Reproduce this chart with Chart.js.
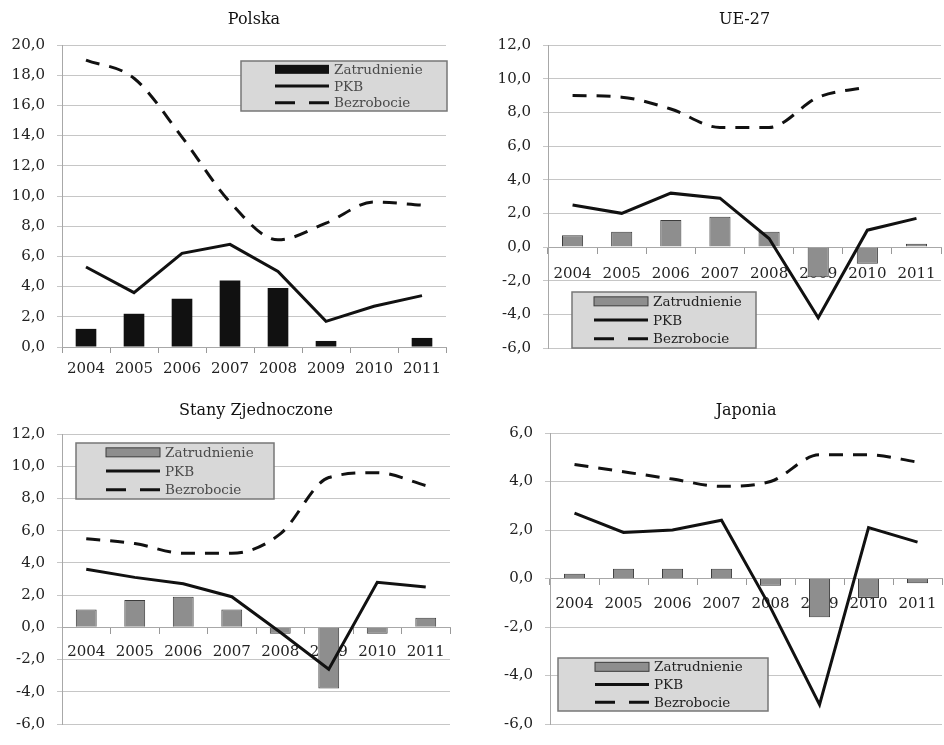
<!DOCTYPE html>
<html lang="pl">
<head>
<meta charset="utf-8">
<title>Zatrudnienie, PKB i bezrobocie 2004-2011</title>
<script src="https://cdn.jsdelivr.net/npm/chart.js@4.4.1/dist/chart.umd.min.js"></script>
<style>
  html, body { margin: 0; padding: 0; background: #fff; }
  body { width: 944px; height: 745px; position: relative; overflow: hidden; }
  .panel { position: absolute; }
</style>
</head>
<body>
<div class="panel" style="left:0;top:0"><canvas id="plChart" width="472" height="380"></canvas></div>
<div class="panel" style="left:472px;top:0"><canvas id="ueChart" width="476" height="380"></canvas></div>
<div class="panel" style="left:0;top:380px"><canvas id="usChart" width="472" height="365"></canvas></div>
<div class="panel" style="left:472px;top:380px"><canvas id="jpChart" width="476" height="365"></canvas></div>
<script>
// values (%)
const years = ['2004', '2005', '2006', '2007', '2008', '2009', '2010', '2011'];

const plZatr = [1.2, 2.2, 3.2, 4.4, 3.9, 0.4, 0.0, 0.6];
const plPkb  = [5.3, 3.6, 6.2, 6.8, 5.0, 1.7, 2.7, 3.4];
const plBezr = [19.0, 17.8, 13.9, 9.6, 7.1, 8.2, 9.6, 9.4];

const ueZatr = [0.7, 0.9, 1.6, 1.8, 0.9, -1.8, -1.0, 0.2];
const uePkb  = [2.5, 2.0, 3.2, 2.9, 0.5, -4.2, 1.0, 1.7];
const ueBezr = [9.0, 8.9, 8.2, 7.1, 7.1, 8.9, 9.5, null];

const usZatr = [1.1, 1.7, 1.9, 1.1, -0.4, -3.8, -0.4, 0.6];
const usPkb  = [3.6, 3.1, 2.7, 1.9, -0.3, -2.6, 2.8, 2.5];
const usBezr = [5.5, 5.2, 4.6, 4.6, 5.8, 9.3, 9.6, 8.8];

const jpZatr = [0.2, 0.4, 0.4, 0.4, -0.3, -1.6, -0.8, -0.2];
const jpPkb  = [2.7, 1.9, 2.0, 2.4, -1.2, -5.2, 2.1, 1.5];
const jpBezr = [4.7, 4.4, 4.1, 3.8, 4.0, 5.1, 5.1, 4.8];

const serif = 'DejaVu Serif';

function fmt(v) {
  return v.toFixed(1).replace('.', ',');
}

// grey legend box drawn inside the plot, like the Excel original
const boxLegend = {
  id: 'boxLegend',
  afterDatasetsDraw(chart, args, opts) {
    const ctx = chart.ctx;
    const b = opts.box;
    ctx.save();
    ctx.fillStyle = '#d8d8d8';
    ctx.strokeStyle = '#777';
    ctx.lineWidth = 1.5;
    ctx.fillRect(b.x, b.y, b.w, b.h);
    ctx.strokeRect(b.x, b.y, b.w, b.h);
    ctx.font = '13.5px "' + serif + '"';
    ctx.textBaseline = 'middle';
    chart.data.datasets.forEach((ds, i) => {
      const y = b.y + b.h * (i + 0.5) / 3;
      const x0 = b.x + opts.indent;
      const x1 = x0 + 54;
      if (ds.type === 'line') {
        ctx.strokeStyle = ds.borderColor;
        ctx.lineWidth = 3;
        ctx.setLineDash(ds.borderDash ? [20, 14] : []);
        ctx.beginPath();
        ctx.moveTo(x0, y);
        ctx.lineTo(x1, y);
        ctx.stroke();
        ctx.setLineDash([]);
      } else {
        ctx.fillStyle = ds.backgroundColor;
        ctx.fillRect(x0, y - 4.5, x1 - x0, 9);
        if (ds.borderWidth) {
          ctx.strokeStyle = ds.borderColor;
          ctx.lineWidth = 1;
          ctx.strokeRect(x0, y - 4.5, x1 - x0, 9);
        }
      }
      ctx.fillStyle = opts.color;
      ctx.fillText(ds.label, x1 + 5, y + 1);
    });
    ctx.restore();
  }
};

function makeChart(id, p) {
  const xScale = {
    position: p.xPos,
    grid: { drawOnChartArea: false, drawTicks: true, tickLength: 6, color: '#999', offset: true },
    border: { display: true, color: '#a8a8a8' },
    ticks: { color: '#222', padding: p.xPad, maxRotation: 0, autoSkip: false, font: { family: serif, size: 15 } }
  };
  if (p.xHeight) {
    xScale.afterFit = s => { s.height = p.xHeight; };
  }

  return new Chart(document.getElementById(id), {
    type: 'bar',
    data: {
      labels: years,
      datasets: [
        {
          label: 'Zatrudnienie',
          data: p.zatr,
          backgroundColor: p.barColor,
          borderColor: '#3c3c3c',
          borderWidth: p.barBorder,
          barPercentage: 0.43,
          categoryPercentage: 1,
          order: 2
        },
        {
          type: 'line',
          label: 'PKB',
          data: p.pkb,
          borderColor: '#111',
          borderWidth: 3,
          pointRadius: 0,
          tension: 0,
          order: 1
        },
        {
          type: 'line',
          label: 'Bezrobocie',
          data: p.bezr,
          borderColor: '#111',
          borderWidth: 3,
          borderDash: [14, 10],
          pointRadius: 0,
          cubicInterpolationMode: 'monotone',
          order: 1
        }
      ]
    },
    options: {
      responsive: false,
      animation: false,
      devicePixelRatio: 1,
      layout: { padding: p.padding },
      plugins: {
        legend: { display: false },
        tooltip: { enabled: false },
        title: {
          display: true,
          text: p.title,
          fullSize: false,
          color: '#111',
          font: { family: serif, size: 16, weight: 'normal' },
          padding: { top: 0, bottom: p.titleGap }
        },
        boxLegend: { box: p.legend, indent: p.indent, color: p.legendColor }
      },
      scales: {
        x: xScale,
        y: {
          min: p.min,
          max: p.max,
          ticks: {
            stepSize: 2,
            callback: v => fmt(v),
            color: '#222',
            padding: 12,
            font: { family: serif, size: 15 }
          },
          grid: { color: '#c6c6c6', tickLength: 5 },
          border: { color: '#a8a8a8' },
          afterFit: s => { s.width = p.yWidth; }
        }
      }
    },
    plugins: [boxLegend]
  });
}

makeChart('plChart', {
  title: 'Polska', zatr: plZatr, pkb: plPkb, bezr: plBezr,
  min: 0, max: 20, barColor: '#111', barBorder: 0,
  padding: { top: 10, left: 0, right: 26, bottom: 0 }, titleGap: 15.8,
  yWidth: 62, xPos: 'bottom', xPad: 7, xHeight: 33,
  legend: { x: 241, y: 61, w: 206, h: 50 }, indent: 34, legendColor: '#4a4a4a'
});

makeChart('ueChart', {
  title: 'UE-27', zatr: ueZatr, pkb: uePkb, bezr: ueBezr,
  min: -6, max: 12, barColor: '#8e8e8e', barBorder: 1,
  padding: { top: 10, left: 0, right: 0, bottom: 32 }, titleGap: 15.8,
  yWidth: 76, xPos: { y: 0 }, xPad: 12,
  legend: { x: 100, y: 292, w: 184, h: 56 }, indent: 22, legendColor: '#222'
});

makeChart('usChart', {
  title: 'Stany Zjednoczone', zatr: usZatr, pkb: usPkb, bezr: usBezr,
  min: -6, max: 12, barColor: '#8e8e8e', barBorder: 1,
  padding: { top: 21, left: 0, right: 22, bottom: 8 }, titleGap: 13.8,
  yWidth: 62, xPos: { y: 0 }, xPad: 10,
  legend: { x: 76, y: 63, w: 198, h: 56 }, indent: 30, legendColor: '#4a4a4a'
});

makeChart('jpChart', {
  title: 'Japonia', zatr: jpZatr, pkb: jpPkb, bezr: jpBezr,
  min: -6, max: 6, barColor: '#8e8e8e', barBorder: 1,
  padding: { top: 21, left: 0, right: 0, bottom: 9 }, titleGap: 12.8,
  yWidth: 78, xPos: { y: 0 }, xPad: 11,
  legend: { x: 86, y: 278, w: 210, h: 53 }, indent: 37, legendColor: '#222'
});
</script>
</body>
</html>
